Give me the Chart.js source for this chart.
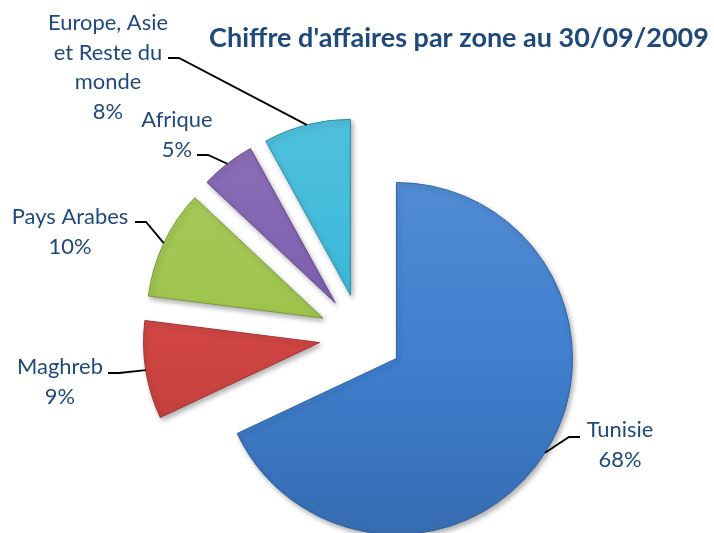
<!DOCTYPE html>
<html>
<head>
<meta charset="utf-8">
<script src="https://cdn.jsdelivr.net/npm/chart.js@4.4.0/dist/chart.umd.min.js"></script>
<style>
    html, body { margin: 0; padding: 0; background: #fff; }
    #chart_container { width: 714px; height: 533px; position: relative; }
</style>
</head>
<body>
<div id="chart_container"><canvas id="zone_chart"></canvas></div>
<script>
// Chiffre d'affaires par zone - exploded pie
var zones = ['Tunisie', 'Maghreb', 'Pays Arabes', 'Afrique', 'Europe, Asie et Reste du monde'];
var parts = [68, 9, 10, 5, 8];
var labelLines = [['Tunisie'], ['Maghreb'], ['Pays Arabes'], ['Afrique'], ['Europe, Asie', 'et Reste du', 'monde']];
var sliceColors = ['#3F7FCF', '#D04543', '#9EC44C', '#7F5FB0', '#3BB9D9'];
var titleText = "Chiffre d'affaires par zone au 30/09/2009";

var RADIUS = 176;   // pie radius (px)
var EXPLODE = 42;   // how far each slice is pulled out (px)
var TEXT_COLOR = '#1F497D';
var FONT = "Lato, 'Open Sans', sans-serif";

// where each label sits and where its leader line starts
var labelPos = [
    { x: 620, y: 430, ex: 580, ey: 437, dir: -1 },
    { x: 60,  y: 367, ex: 108, ey: 373, dir: 1 },
    { x: 70,  y: 217, ex: 135, ey: 222, dir: 1 },
    { x: 177, y: 120, ex: 197, ey: 155, dir: 1 },
    { x: 108, y: 23,  ex: 168, ey: 58,  dir: 1 }
];

function shade(hex, amt) {
    var n = parseInt(hex.slice(1), 16);
    var r = (n >> 16) & 255, g = (n >> 8) & 255, b = n & 255;
    function f(c) {
        return Math.round(amt >= 0 ? c + (255 - c) * amt : c * (1 + amt));
    }
    return 'rgb(' + f(r) + ',' + f(g) + ',' + f(b) + ')';
}

function sliceFill(context) {
    var chart = context.chart;
    var area = chart.chartArea;
    var base = sliceColors[context.dataIndex];
    if (!area) return base;
    var cy = (area.top + area.bottom) / 2;
    var g = chart.ctx.createLinearGradient(0, cy - RADIUS, 0, cy + RADIUS);
    g.addColorStop(0, shade(base, 0.10));
    g.addColorStop(0.5, base);
    g.addColorStop(1, shade(base, -0.15));
    return g;
}

function fitSize(ctx, text, weight, width) {
    ctx.font = weight + ' 20px ' + FONT;
    return 20 * width / ctx.measureText(text).width;
}

// chart.js v4 grows an offset arc and narrows its angle a little;
// undo both so every slice keeps RADIUS and its true share
var keepShape = {
    id: 'keepShape',
    beforeDatasetDraw: function (chart) {
        chart.getDatasetMeta(0).data.forEach(function (arc) {
            var fix = 1 - Math.sin(Math.min(Math.PI, arc.circumference || 0));
            var grow = EXPLODE * fix;
            if (arc._baseStart === undefined) arc._baseStart = arc.startAngle;
            var widen = grow / (2 * Math.PI * RADIUS);
            arc.outerRadius = RADIUS - grow;
            arc.startAngle = arc._baseStart - widen;
            arc.endAngle = arc._baseStart + arc.circumference + widen;
        });
    }
};

var softShadow = {
    id: 'softShadow',
    beforeDatasetsDraw: function (chart) {
        var ctx = chart.ctx;
        ctx.save();
        ctx.shadowColor = 'rgba(0,0,0,0.3)';
        ctx.shadowBlur = 5;
        ctx.shadowOffsetX = 2;
        ctx.shadowOffsetY = 3;
    },
    afterDatasetsDraw: function (chart) {
        chart.ctx.restore();
    }
};

var labelsAndTitle = {
    id: 'labelsAndTitle',
    afterDraw: function (chart) {
        var ctx = chart.ctx;
        var total = parts.reduce(function (a, b) { return a + b; }, 0);
        var arcs = chart.getDatasetMeta(0).data;

        // title
        ctx.save();
        var ts = fitSize(ctx, titleText, 'bold', 500);
        ctx.font = 'bold ' + ts + 'px ' + FONT;
        ctx.fillStyle = TEXT_COLOR;
        ctx.textAlign = 'center';
        ctx.textBaseline = 'middle';
        ctx.fillText(titleText, 459, 38);

        var ls = fitSize(ctx, 'Europe, Asie', 'normal', 120);
        ctx.font = ls + 'px ' + FONT;

        arcs.forEach(function (arc, i) {
            var p = labelPos[i];
            var mid = (arc.startAngle + arc.endAngle) / 2;
            var cx = arc.x + Math.cos(mid) * EXPLODE;
            var cy = arc.y + Math.sin(mid) * EXPLODE;
            var ax = cx + Math.cos(mid) * RADIUS;
            var ay = cy + Math.sin(mid) * RADIUS;

            // leader line
            ctx.beginPath();
            ctx.moveTo(p.ex, p.ey);
            ctx.lineTo(p.ex + p.dir * 11, p.ey);
            ctx.lineTo(ax, ay);
            ctx.strokeStyle = '#000';
            ctx.lineWidth = 1.8;
            ctx.stroke();

            // text
            var lines = labelLines[i].concat([Math.round(parts[i] / total * 100) + '%']);
            lines.forEach(function (t, k) {
                ctx.fillText(t, p.x, p.y + k * 29.5);
            });
        });
        ctx.restore();
    }
};

var ctx = document.getElementById('zone_chart').getContext('2d');
var zoneChart = new Chart(ctx, {
    type: 'pie',
    data: {
        labels: zones,
        datasets: [{
            data: parts,
            backgroundColor: sliceFill,
            borderColor: sliceColors.map(function (c) { return shade(c, -0.22); }),
            borderWidth: 1,
            offset: EXPLODE * 4,
            radius: RADIUS,
            clip: false
        }]
    },
    options: {
        responsive: true,
        maintainAspectRatio: false,
        animation: false,
        events: [],
        layout: {
            padding: { left: 8, right: 0, top: 139, bottom: 0 }
        },
        plugins: {
            legend: { display: false },
            title: { display: false },
            tooltip: { enabled: false }
        }
    },
    plugins: [keepShape, softShadow, labelsAndTitle]
});
</script>
</body>
</html>
